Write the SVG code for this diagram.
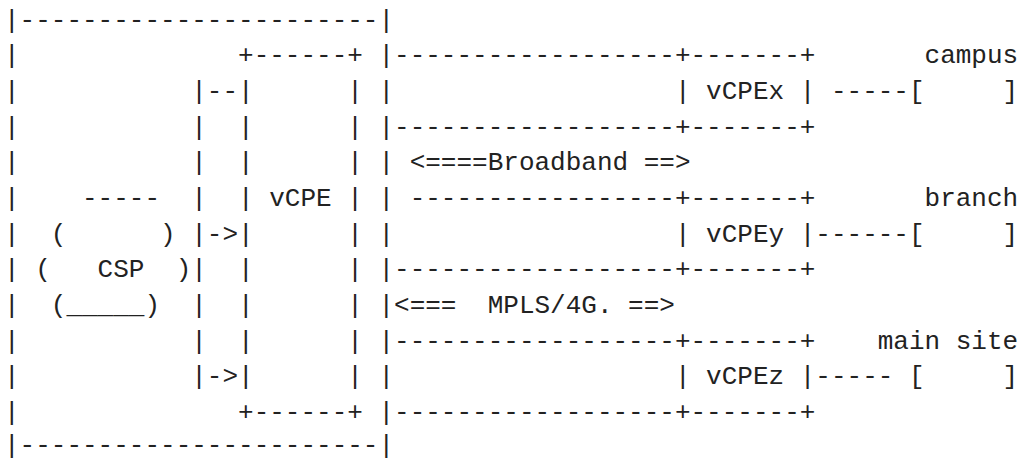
<svg xmlns="http://www.w3.org/2000/svg" width="1019" height="459" viewBox="0 0 1019 459">
  <style>
    .art text { font-family: "Liberation Mono", "DejaVu Sans Mono", monospace; font-size: 26px; fill: #222222; white-space: pre; }
  </style>
  <rect width="1019" height="459" fill="#ffffff"/>
  <!-- vCPE deployment: CSP cloud feeding a vCPE box, three sites over broadband / MPLS -->
  <g id="ascii-art" class="art">
    <text xml:space="preserve" x="4" y="27.5">|-----------------------|</text>
    <text xml:space="preserve" x="4" y="63.2">|              +------+ |------------------+-------+       campus</text>
    <text xml:space="preserve" x="4" y="98.8">|           |--|      | |                  | vCPEx | -----[     ]</text>
    <text xml:space="preserve" x="4" y="134.5">|           |  |      | |------------------+-------+</text>
    <text xml:space="preserve" x="4" y="170.2">|           |  |      | | &lt;====Broadband ==&gt;</text>
    <text xml:space="preserve" x="4" y="205.8">|    -----  |  | vCPE | | -----------------+-------+       branch</text>
    <text xml:space="preserve" x="4" y="241.5">|  (      ) |-&gt;|      | |                  | vCPEy |------[     ]</text>
    <text xml:space="preserve" x="4" y="277.2">| (   CSP  )|  |      | |------------------+-------+</text>
    <text xml:space="preserve" x="4" y="312.8">|  (_____)  |  |      | |&lt;===  MPLS/4G. ==&gt;</text>
    <text xml:space="preserve" x="4" y="348.5">|           |  |      | |------------------+-------+    main site</text>
    <text xml:space="preserve" x="4" y="384.2">|           |-&gt;|      | |                  | vCPEz |----- [     ]</text>
    <text xml:space="preserve" x="4" y="419.8">|              +------+ |------------------+-------+</text>
    <text xml:space="preserve" x="4" y="453">|-----------------------|</text>
  </g>
</svg>
